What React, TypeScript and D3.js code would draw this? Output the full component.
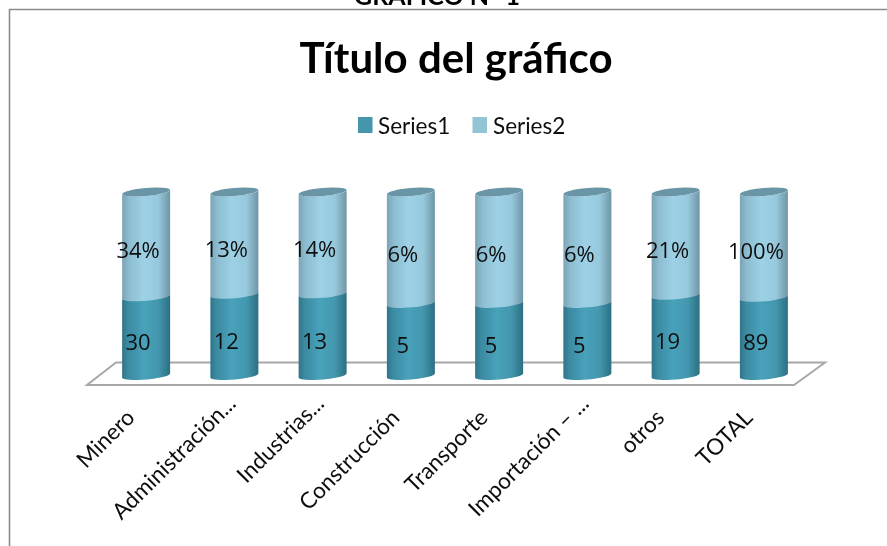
import React from "react";
import * as d3 from "d3";

const categories = ["Minero", "Administración...", "Industrias...", "Construcción", "Transporte", "Importación – ...", "otros", "TOTAL"];
// Segment heights (share of the full column)
const series1Share = [0.429, 0.443, 0.445, 0.393, 0.393, 0.393, 0.437, 0.426];
const series2Share = [0.571, 0.557, 0.555, 0.607, 0.607, 0.607, 0.563, 0.574];
// Printed data labels
const series1Labels = ["30", "12", "13", "5", "5", "5", "19", "89"];
const series2Labels = ["34%", "13%", "14%", "6%", "6%", "6%", "21%", "100%"];
const seriesNames = ["Series1", "Series2"];
const seriesColors = ["#4596ad", "#93c4d6"];

const W = 887, H = 546;
const FONT = "Lato, 'Open Sans', sans-serif";

const x = d3.scaleBand<string>().domain(categories).range([102, 808]).paddingInner(0).paddingOuter(0);
const y = d3.scaleLinear().domain([0, 1]).range([375.5, 192]);
const R = 24, TILT = 2.2, RY = 4;

const rows = categories.map((c, i) => ({ c, Series1: series1Share[i], Series2: series2Share[i] }));
const stacked = d3.stack<any>().keys(seriesNames)(rows);

function segment(cx: number, y0: number, y1: number, topRy: number) {
  const l = cx - R, r = cx + R;
  return `M${l},${y0 + TILT} A${R},${RY} -5 0 0 ${r},${y0 - TILT} L${r},${y1 - TILT} A${R},${topRy} -5 0 1 ${l},${y1 + TILT} Z`;
}

export default function App() {
  return (
    <svg width={W} height={H} style={{ position: "absolute", left: 0, top: 0, background: "#fff" }}>
      <defs>
        <linearGradient id="g1" x1="0" x2="1" y1="0" y2="0">
          <stop offset="0" stopColor="#2f7488" />
          <stop offset="0.12" stopColor="#3b8aa1" />
          <stop offset="0.45" stopColor="#48a2bb" />
          <stop offset="0.75" stopColor="#4397ae" />
          <stop offset="1" stopColor="#2c6f82" />
        </linearGradient>
        <linearGradient id="g2" x1="0" x2="1" y1="0" y2="0">
          <stop offset="0" stopColor="#7ba4b5" />
          <stop offset="0.15" stopColor="#8dbdd0" />
          <stop offset="0.45" stopColor="#9dd1e6" />
          <stop offset="0.75" stopColor="#97c9dd" />
          <stop offset="1" stopColor="#6f95a5" />
        </linearGradient>
        <filter id="soft" x="-2%" y="-2%" width="104%" height="104%">
          <feGaussianBlur stdDeviation="0.45" />
        </filter>
      </defs>
      <g filter="url(#soft)">
        <path d={`M9.5,546 V9.5 H887`} fill="none" stroke="#8c8c8c" strokeWidth={1.6} />
        <text x={437} y={5} textAnchor="middle" fontFamily={FONT} fontWeight={700} fontSize={25} fill="#000">GRÁFICO N° 1</text>
        <text x={456} y={73} textAnchor="middle" fontFamily={FONT} fontWeight={700} fontSize={42} fill="#000">Título del gráfico</text>

        {seriesNames.map((n, i) => (
          <g key={n}>
            <rect x={i === 0 ? 358 : 472.5} y={117} width={14.5} height={16} fill={seriesColors[i]} />
            <text x={i === 0 ? 378 : 493} y={134} fontFamily={FONT} fontSize={22.5} fill="#111">{n}</text>
          </g>
        ))}

        <path d="M116,362.5 H825 L794,385 H87 Z" fill="#fff" stroke="#a8a8a8" strokeWidth={2} />

        {categories.map((c, i) => {
          const cx = x(c)! + x.bandwidth() / 2;
          const s1 = stacked[0][i], s2 = stacked[1][i];
          const yMid = y(s1[1]);
          const yTop = y(s2[1]);
          const yBase = y(0);
          const truncated = i === 1 || i === 2 || i === 5;
          return (
            <g key={c}>
              <path d={segment(cx, yBase, yMid, 3)} fill="url(#g1)" />
              <path d={segment(cx, yMid, yTop, 4)} fill="url(#g2)" />
              <ellipse cx={cx} cy={yTop} rx={R} ry={4} transform={`rotate(-5 ${cx} ${yTop})`} fill="#6a95a6" />
              <text x={cx - 8} y={(yBase + yMid) / 2 + 6 + 8} textAnchor="middle" fontFamily="'Open Sans', sans-serif" fontSize={22} fill="#111">{series1Labels[i]}</text>
              <text x={cx - 8} y={(yMid + yTop) / 2 + 6 + 8} textAnchor="middle" fontFamily="'Open Sans', sans-serif" fontSize={22} fill="#111">{series2Labels[i]}</text>
              <text transform={`translate(${truncated ? cx + 3 : cx - 10},${truncated ? 405 : 419}) rotate(-45)`} textAnchor="end" fontFamily={FONT} fontSize={22.5} fill="#111">{c}</text>
            </g>
          );
        })}
      </g>
    </svg>
  );
}
